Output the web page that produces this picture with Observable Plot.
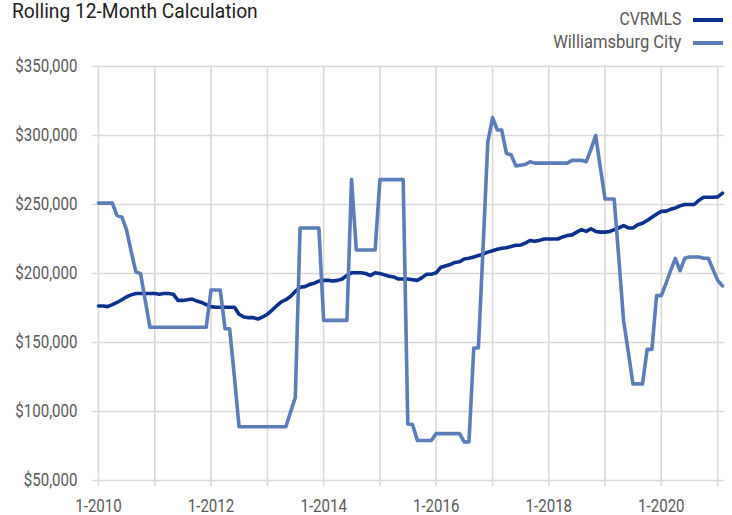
<!DOCTYPE html>
<html><head><meta charset="utf-8">
<script src="https://cdn.jsdelivr.net/npm/d3@7"></script>
<script src="https://cdn.jsdelivr.net/npm/@observablehq/plot@0.6"></script>
<style>
body{margin:0;background:#fff;}
#wrap{position:relative;width:732px;height:515px;overflow:hidden;font-family:Roboto,"Liberation Sans",sans-serif;}
#chart{position:absolute;left:0;top:0;}
#title{position:absolute;left:12px;top:0px;font-size:19.5px;line-height:24px;color:#1e1e1e;white-space:nowrap;transform:scaleX(0.985);transform-origin:left center;}
.leg{position:absolute;right:9px;display:flex;align-items:center;font-size:18px;line-height:20px;color:#595959;white-space:nowrap;}
.leg span.tx{display:inline-block;transform:scaleX(0.88);transform-origin:right center;}
.leg span.sw{display:inline-block;width:30px;height:4px;margin-left:12px;position:relative;top:1px;}
</style></head>
<body>
<div id="wrap">
  <div id="chart"></div>
  <div id="title">Rolling 12-Month Calculation</div>
  <div class="leg" style="top:9px"><span class="tx">CVRMLS</span><span class="sw" style="background:#0b318f"></span></div>
  <div class="leg" style="top:32px"><span class="tx" style="transform:scaleX(0.92)">Williamsburg City</span><span class="sw" style="background:#5b7db9"></span></div>
</div>
<script>
// Monthly series, Jan 2010 .. Feb 2021
const startYear = 2010;
const seriesNames = ["CVRMLS", "Williamsburg City"];
const cvrmls = [
  176500,176500,176000,177500,179000,181000,183000,184500,185500,185500,185500,185500,
  185500,185000,185500,185500,185000,180500,180500,181000,181500,180000,179000,177500,
  176000,175500,175500,175500,175500,175500,170500,168500,168000,168000,167000,168500,
  170500,173500,176500,179500,181000,183500,187000,190000,190500,192000,193000,194500,
  195000,195000,194500,195000,196000,198500,200500,200500,200500,200000,198500,200500,
  200000,199000,198000,197500,196000,196000,196000,195500,195000,197000,199500,199500,
  200500,204500,205500,206500,208000,208500,210500,211000,212000,213000,214000,215500,
  216500,217500,218300,218700,219500,220500,220500,222000,223900,223400,224000,225000,
  225000,225000,225000,226500,227500,228000,230000,231800,230500,232400,230500,230000,
  230000,230500,231800,233000,234800,233000,233000,235300,236400,238400,240800,243000,
  245000,245200,246500,247500,249000,250000,250000,250000,253000,255300,255300,255300,
  255500,258200
];
const williamsburg = [
  251000,251000,251000,251000,242000,241000,232000,216000,201000,200000,180000,161000,
  161000,161000,161000,161000,161000,161000,161000,161000,161000,161000,161000,161000,
  188000,188000,188000,160000,160000,125000,89000,89000,89000,89000,89000,89000,
  89000,89000,89000,89000,89000,100000,110000,233000,233000,233000,233000,233000,
  166000,166000,166000,166000,166000,166000,268000,217000,217000,217000,217000,217000,
  268000,268000,268000,268000,268000,268000,91000,90500,79000,79000,79000,79000,
  84000,84000,84000,84000,84000,84000,78000,78000,146000,146000,220000,295000,
  313000,304000,304000,287000,286000,278000,278500,279000,281000,280000,280000,280000,
  280000,280000,280000,280000,280000,282000,282000,282000,281000,290000,300000,277000,
  254000,254000,254000,210000,166000,143000,120000,120000,120000,145000,145000,184000,
  184000,193000,202000,211000,202000,211000,212000,212000,212000,211000,211000,203000,
  195000,191000
];
const yTicks = [50000,100000,150000,200000,250000,300000,350000];
const xTickLabels = ["1-2010","1-2012","1-2014","1-2016","1-2018","1-2020"];
const gridYears = [2010,2011,2012,2013,2014,2015,2016,2017,2018,2019,2020,2021];

const colors = {"CVRMLS":"#0b318f","Williamsburg City":"#5b7db9"};
const rows = cvrmls.map((c, i) => ({
  date: new Date(Date.UTC(startYear, i, 1)), c, w: williamsburg[i]
}));
const labelDates = xTickLabels.map(s => { const [m, y] = s.split("-").map(Number); return new Date(Date.UTC(y, m - 1, 1)); });
const gridDates = gridYears.map(y => new Date(Date.UTC(y, 0, 1)));
const fmtY = d3.format("$,");

const chart = Plot.plot({
  width: 732, height: 515,
  marginTop: 66, marginBottom: 35, marginLeft: 98, marginRight: 10,
  x: {type: "utc", domain: [rows[0].date, rows[rows.length - 1].date]},
  y: {domain: [50000, 350000]},
  style: {fontFamily: 'Roboto,"Liberation Sans",sans-serif', fontSize: "17.5px", color: "#595959", background: "white", overflow: "visible"},
  marks: [
    Plot.ruleY(yTicks, {stroke: "#d9d9d9", strokeWidth: 1.6, insetLeft: -6, insetRight: -2}),
    Plot.ruleX(gridDates, {stroke: "#d9d9d9", strokeWidth: 1.6, insetBottom: -6}),
    Plot.axisY(yTicks, {tickSize: 0, tickPadding: 21, tickFormat: fmtY, fill: "#595959"}),
    Plot.axisX(labelDates, {tickSize: 0, tickPadding: 19, fill: "#595959",
      tickFormat: d => xTickLabels[labelDates.findIndex(t => +t === +d)]}),
    Plot.line(rows, {x: "date", y: "c", stroke: colors["CVRMLS"], strokeWidth: 3.6}),
    Plot.line(rows, {x: "date", y: "w", stroke: colors["Williamsburg City"], strokeWidth: 3.6})
  ]
});
document.getElementById("chart").appendChild(chart);
// condense axis tick labels horizontally (narrow typeface look)
const condense = 0.86;
chart.querySelectorAll('g[aria-label="y-axis tick label"] text, g[aria-label="x-axis tick label"] text').forEach(t => {
  const len = t.getComputedTextLength();
  if (isFinite(len) && len > 0) {
    t.setAttribute("textLength", (len * condense).toFixed(2));
    t.setAttribute("lengthAdjust", "spacingAndGlyphs");
  }
});
</script>
</body></html>
